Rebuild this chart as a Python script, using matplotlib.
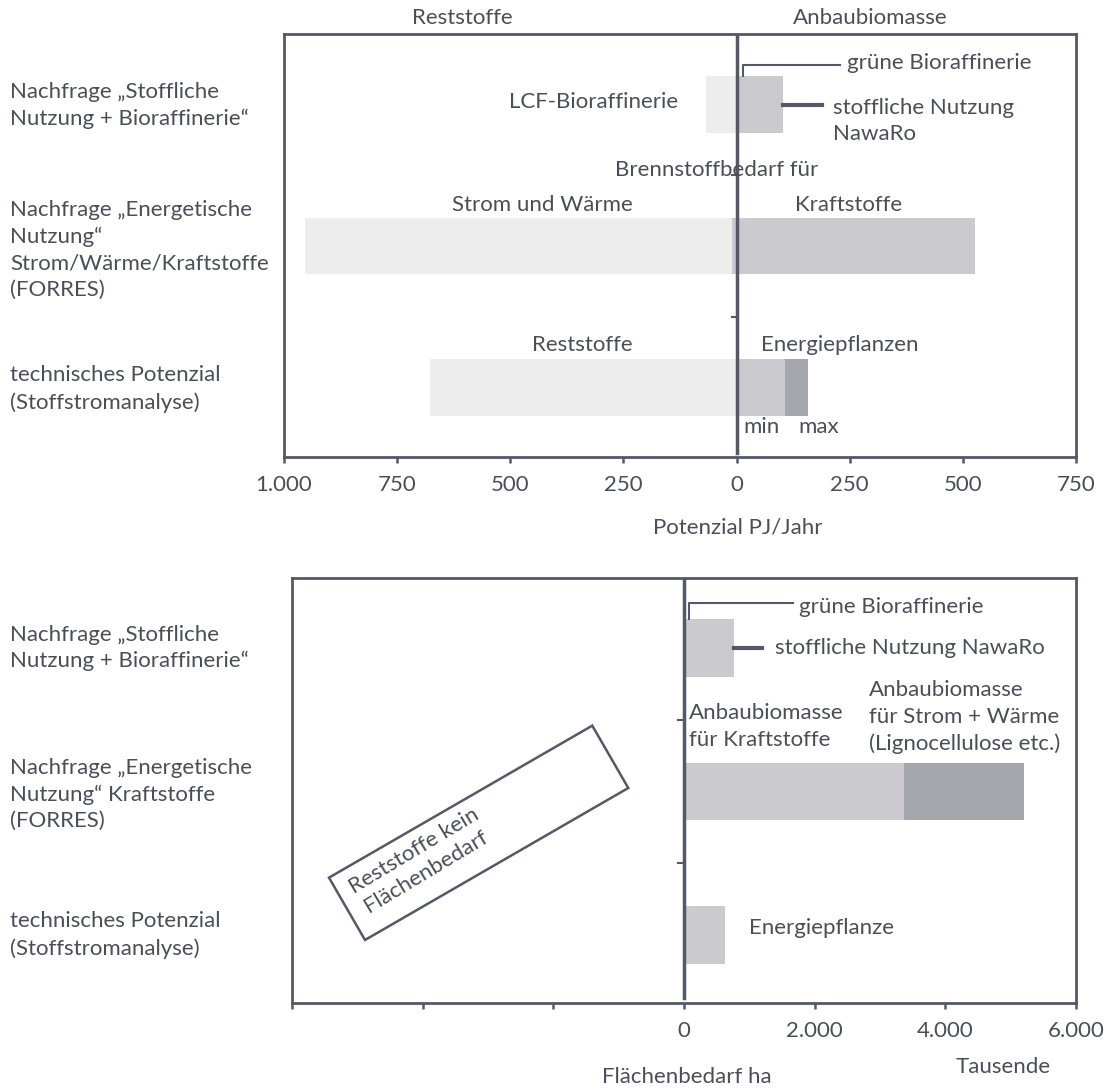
import matplotlib.pyplot as plt
from matplotlib.patches import Rectangle
from matplotlib.transforms import Affine2D, IdentityTransform, blended_transform_factory

plt.rcParams['font.family'] = ['Lato', 'DejaVu Sans']
plt.rcParams['font.size'] = 16

TXT = '#4b4e59'
LINE = '#555866'
HELL = '#ededed'
MITTEL = '#cbcbcf'
DUNKEL = '#a6a6ae'

# Daten oberes Diagramm (PJ/Jahr), Reststoffe negativ
kategorien_oben = ['Nachfrage \u201eStoffliche\nNutzung + Bioraffinerie\u201c',
                   'Nachfrage \u201eEnergetische\nNutzung\u201c\nStrom/W\u00e4rme/Kraftstoffe\n(FORRES)',
                   'technisches Potenzial\n(Stoffstromanalyse)']
reststoffe_oben = [-68, -954, -678]
anbau_min_oben = [102, 526, 106]
anbau_max_oben = [102, 526, 157]
ticks_oben = [-1000, -750, -500, -250, 0, 250, 500, 750]
ticklabels_oben = ['1.000', '750', '500', '250', '0', '250', '500', '750']

# Daten unteres Diagramm (Tausend ha)
kategorien_unten = ['Nachfrage \u201eStoffliche\nNutzung + Bioraffinerie\u201c',
                    'Nachfrage \u201eEnergetische\nNutzung\u201c Kraftstoffe\n(FORRES)',
                    'technisches Potenzial\n(Stoffstromanalyse)']
flaeche_a = [765, 3370, 630]
flaeche_b = [0, 1830, 0]
ticks_unten = [-6000, -4000, -2000, 0, 2000, 4000, 6000]
ticklabels_unten = ['', '', '', '0', '2.000', '4.000', '6.000']

W, H = 1108, 1090
fig = plt.figure(figsize=(W / 100, H / 100), dpi=100)


def rahmen(ax):
    for s in ax.spines.values():
        s.set_color(LINE)
        s.set_linewidth(2)
    ax.tick_params(axis='x', colors=LINE, labelcolor=TXT, length=4, width=1.8,
                   direction='out', pad=9, labelsize=16)
    ax.tick_params(axis='y', length=0)
    ax.set_yticks([])


# ---------- oberes Diagramm ----------
ax1 = fig.add_axes([284 / W, 1 - 457 / H, (1076 - 284) / W, (457 - 34) / H])
y = list(range(len(kategorien_oben)))
ax1.barh(y, reststoffe_oben, height=0.4, color=HELL)
ax1.barh(y, anbau_max_oben, height=0.4, color=DUNKEL)
ax1.barh(y, anbau_min_oben, height=0.4, color=MITTEL)
ax1.barh(1, -9, height=0.4, color=MITTEL)
ax1.set_xlim(-1000, 750)
ax1.set_ylim(2.49, -0.498)
ax1.set_xticks(ticks_oben, ticklabels_oben)
rahmen(ax1)
ax1.plot([0, 0], [-0.5, 2.46], color=LINE, lw=2.5)
for yy in [0.5, 1.5]:
    ax1.plot([-9, 0], [yy, yy], color=LINE, lw=1.5)

lt1 = blended_transform_factory(fig.transFigure, ax1.transData)
for i, k in enumerate(kategorien_oben):
    ax1.text(10 / W, i + (0.03 if i == 1 else 0.01), k, transform=lt1, color=TXT,
             va='center', ha='left', linespacing=1.4)

ax1.text(-130, -0.02, 'LCF-Bioraffinerie', color=TXT, ha='right', va='center')
ax1.text(244, -0.293, 'gr\u00fcne Bioraffinerie', color=TXT, ha='left', va='center')
ax1.plot([14, 14, 228], [-0.2, -0.28, -0.28], color=LINE, lw=1.5)
ax1.text(213, 0.117, 'stoffliche Nutzung\nNawaRo', color=TXT, ha='left', va='center',
         linespacing=1.4)
ax1.plot([102, 188], [0, 0], color=LINE, lw=3)
ax1.text(180, 0.463, 'Brennstoffbedarf f\u00fcr', color=TXT, ha='right', va='center')
ax1.text(-430, 0.71, 'Strom und W\u00e4rme', color=TXT, ha='center', va='center')
ax1.text(248, 0.71, 'Kraftstoffe', color=TXT, ha='center', va='center')
ax1.text(-340, 1.70, 'Reststoffe', color=TXT, ha='center', va='center')
ax1.text(229, 1.70, 'Energiepflanzen', color=TXT, ha='center', va='center')
ax1.text(54, 2.28, 'min', color=TXT, ha='center', va='center')
ax1.text(182, 2.28, 'max', color=TXT, ha='center', va='center')

fig.text(462 / W, 1 - 18 / H, 'Reststoffe', color=TXT, ha='center', va='center')
fig.text(870 / W, 1 - 18 / H, 'Anbaubiomasse', color=TXT, ha='center', va='center')
fig.text(738 / W, 1 - 527 / H, 'Potenzial PJ/Jahr', color=TXT, ha='center', va='center')

# ---------- unteres Diagramm ----------
ax2 = fig.add_axes([292 / W, 1 - 1003 / H, (1076 - 292) / W, (1003 - 578) / H])
y2 = list(range(len(kategorien_unten)))
ax2.barh(y2, flaeche_a, height=0.4, color=MITTEL)
ax2.barh(y2, flaeche_b, left=flaeche_a, height=0.4, color=DUNKEL)
ax2.set_xlim(-6000, 6000)
ax2.set_ylim(2.474, -0.488)
ax2.set_xticks(ticks_unten, ticklabels_unten)
rahmen(ax2)
ax2.plot([0, 0], [-0.488, 2.44], color=LINE, lw=2.5)
for yy in [0.5, 1.5]:
    ax2.plot([-90, 0], [yy, yy], color=LINE, lw=1.5)

lt2 = blended_transform_factory(fig.transFigure, ax2.transData)
for i, k in enumerate(kategorien_unten):
    ax2.text(10 / W, i + (0.02 if i == 1 else 0.0), k, transform=lt2, color=TXT,
             va='center', ha='left', linespacing=1.4)

ax2.text(1760, -0.286, 'gr\u00fcne Bioraffinerie', color=TXT, ha='left', va='center')
ax2.plot([75, 75, 1670], [-0.2, -0.314, -0.314], color=LINE, lw=1.5)
ax2.text(1390, 0, 'stoffliche Nutzung NawaRo', color=TXT, ha='left', va='center')
ax2.plot([765, 1190], [0, 0], color=LINE, lw=3)
ax2.text(75, 0.547, 'Anbaubiomasse\nf\u00fcr Kraftstoffe', color=TXT, ha='left',
         va='center', linespacing=1.4)
ax2.text(2830, 0.481, 'Anbaubiomasse\nf\u00fcr Strom + W\u00e4rme\n(Lignocellulose etc.)',
         color=TXT, ha='left', va='center', linespacing=1.4)
ax2.text(1000, 1.95, 'Energiepflanze', color=TXT, ha='left', va='center')

# gedrehter Kasten
box = Rectangle((0, 0), 304, 72, fill=False, edgecolor=LINE, lw=1.8,
                transform=Affine2D().rotate_deg(30).translate(365, H - 940) + IdentityTransform())
fig.add_artist(box)
fig.text(420 / W, 1 - 861 / H, 'Reststoffe kein\nFl\u00e4chenbedarf', color=TXT,
         rotation=31, ha='center', va='center', rotation_mode='anchor', linespacing=1.25)

fig.text(687 / W, 1 - 1077 / H, 'Fl\u00e4chenbedarf ha', color=TXT, ha='center', va='center')
fig.text(1003 / W, 1 - 1067 / H, 'Tausende', color=TXT, ha='center', va='center')

fig.savefig('out.png', dpi=100)
